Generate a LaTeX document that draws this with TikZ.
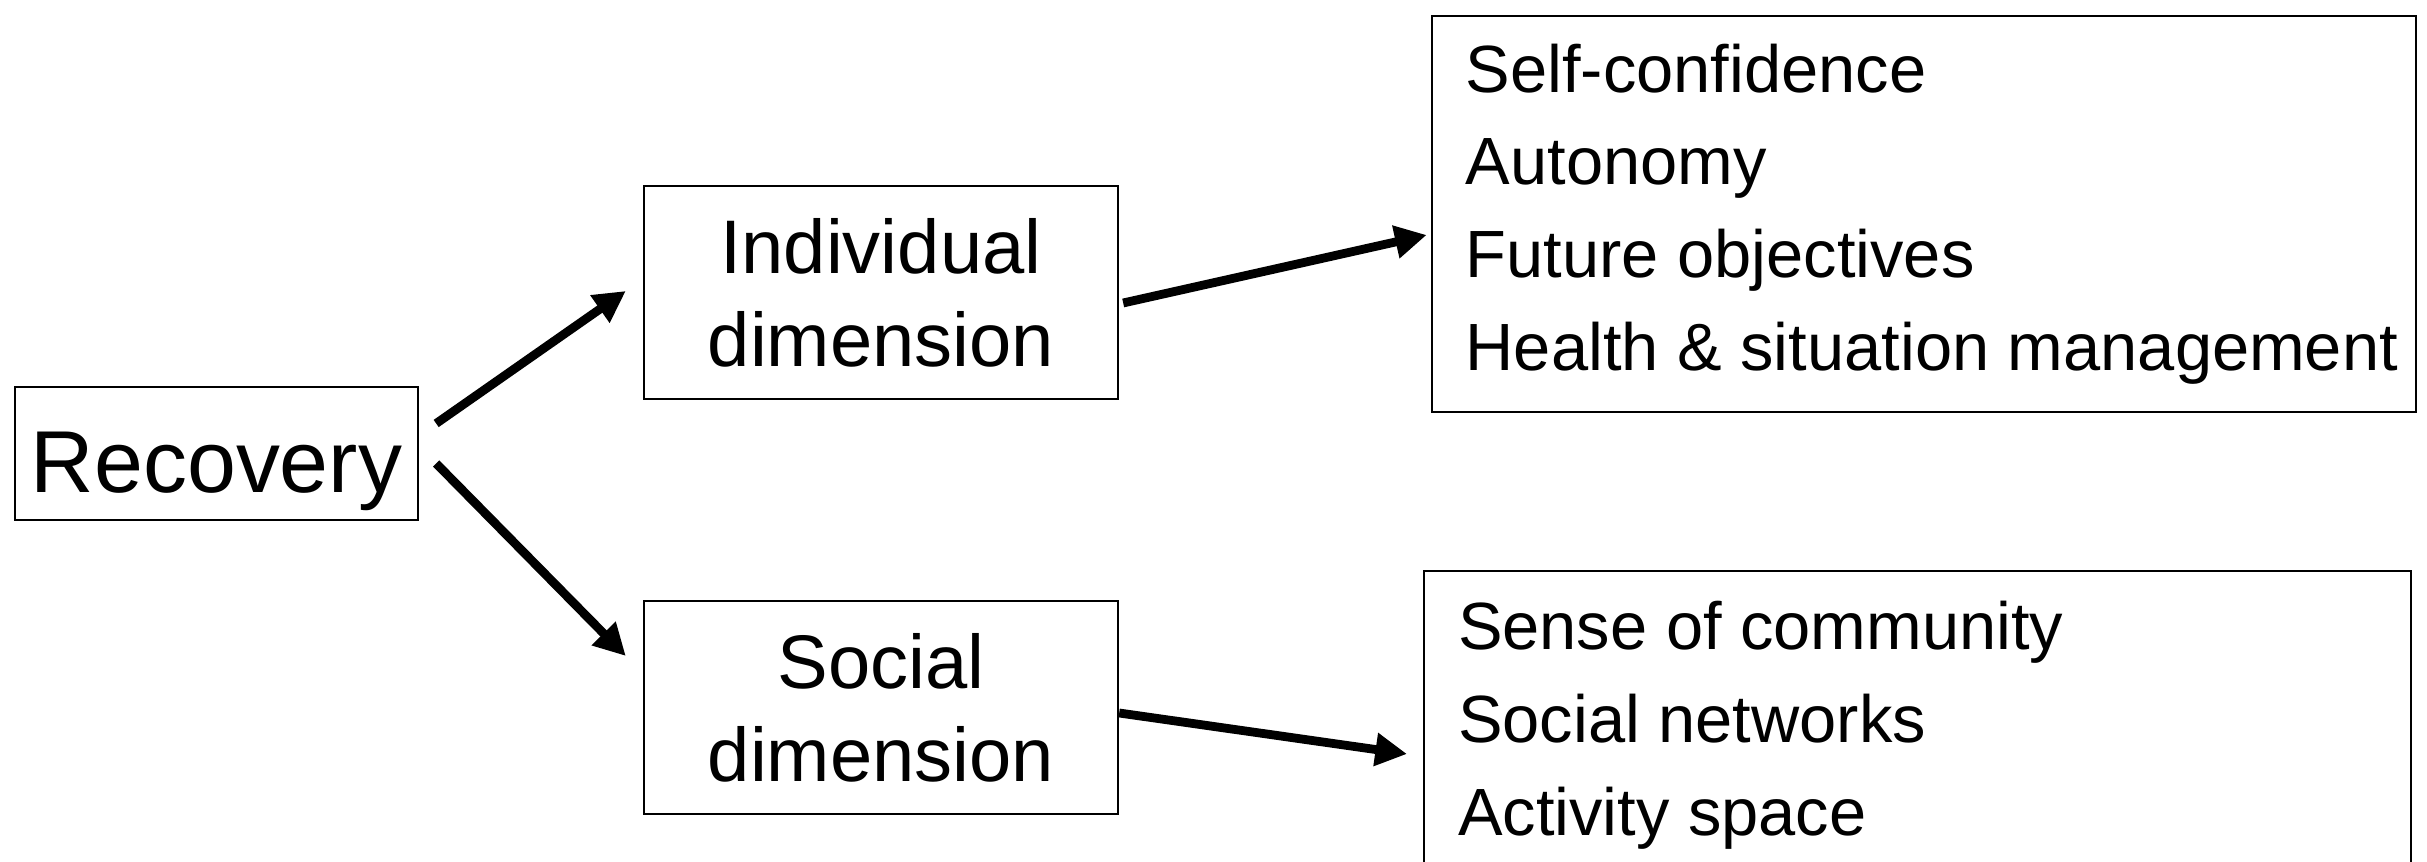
\documentclass[tikz,border=0pt]{standalone}
\usepackage{fontspec}
\setmainfont{Liberation Sans}
\usetikzlibrary{arrows.meta, calc}
\tikzset{
  dimbox/.style={draw, line width=0.6pt, align=center, inner sep=0pt},
  listbox/.style={draw, line width=0.6pt, align=flush left, inner ysep=0pt,
    font=\fontsize{19}{26.4}\selectfont},
  arr/.style={line width=2.5pt, -{Triangle[length=9pt, width=9pt]}}
}
\begin{document}
\begin{tikzpicture}[x=0.01cm, y=-0.01cm]
\useasboundingbox (0,0) rectangle (2427,862);
% ======== root and the two dimensions ========
\node[dimbox, minimum width=4.03cm, minimum height=1.33cm, text height=22pt,
  text depth=0pt, font=\fontsize{25}{30}\selectfont] (recovery) at (216.5,453.5) {Recovery};
\node[dimbox, minimum width=4.74cm, minimum height=2.13cm,
  font=\fontsize{21.6}{26.4}\selectfont] (indiv) at (881,292.5) {Individual\\dimension};
\node[dimbox, minimum width=4.74cm, minimum height=2.13cm,
  font=\fontsize{21.6}{26.4}\selectfont] (social) at (881,707.5) {Social\\dimension};
% ======== lists of components ========
\node[listbox, minimum width=9.84cm, minimum height=3.95cm, inner xsep=0.34cm,
  text width=9.16cm] (indivlist) at (1924,214)
  {Self-confidence\\Autonomy\\Future objectives\\\mbox{Health \& situation management}};
% lower box runs past the bottom edge
\node[listbox, anchor=north west, minimum width=9.86cm, inner xsep=0.34cm,
  inner ysep=0.3cm, text width=9.18cm] (sociallist) at (1423,570)
  {Sense of community\\Social networks\\Activity space};
% ======== arrows ========
\draw[arr] ($(recovery.east)+(17,-30)$) -- ($(indiv.west)+(-17,-1.5)$);
\draw[arr] ($(recovery.east)+(17,10)$) -- ($(social.west)+(-17,-51.5)$);
\draw[arr] ($(indiv.east)+(4,10.5)$) -- ($(indivlist.west)+(-4,21)$);
\draw[arr] ($(social.east)+(0,5.5)$) -- ($(sociallist.north west)+(-16,184)$);
\end{tikzpicture}
\end{document}
